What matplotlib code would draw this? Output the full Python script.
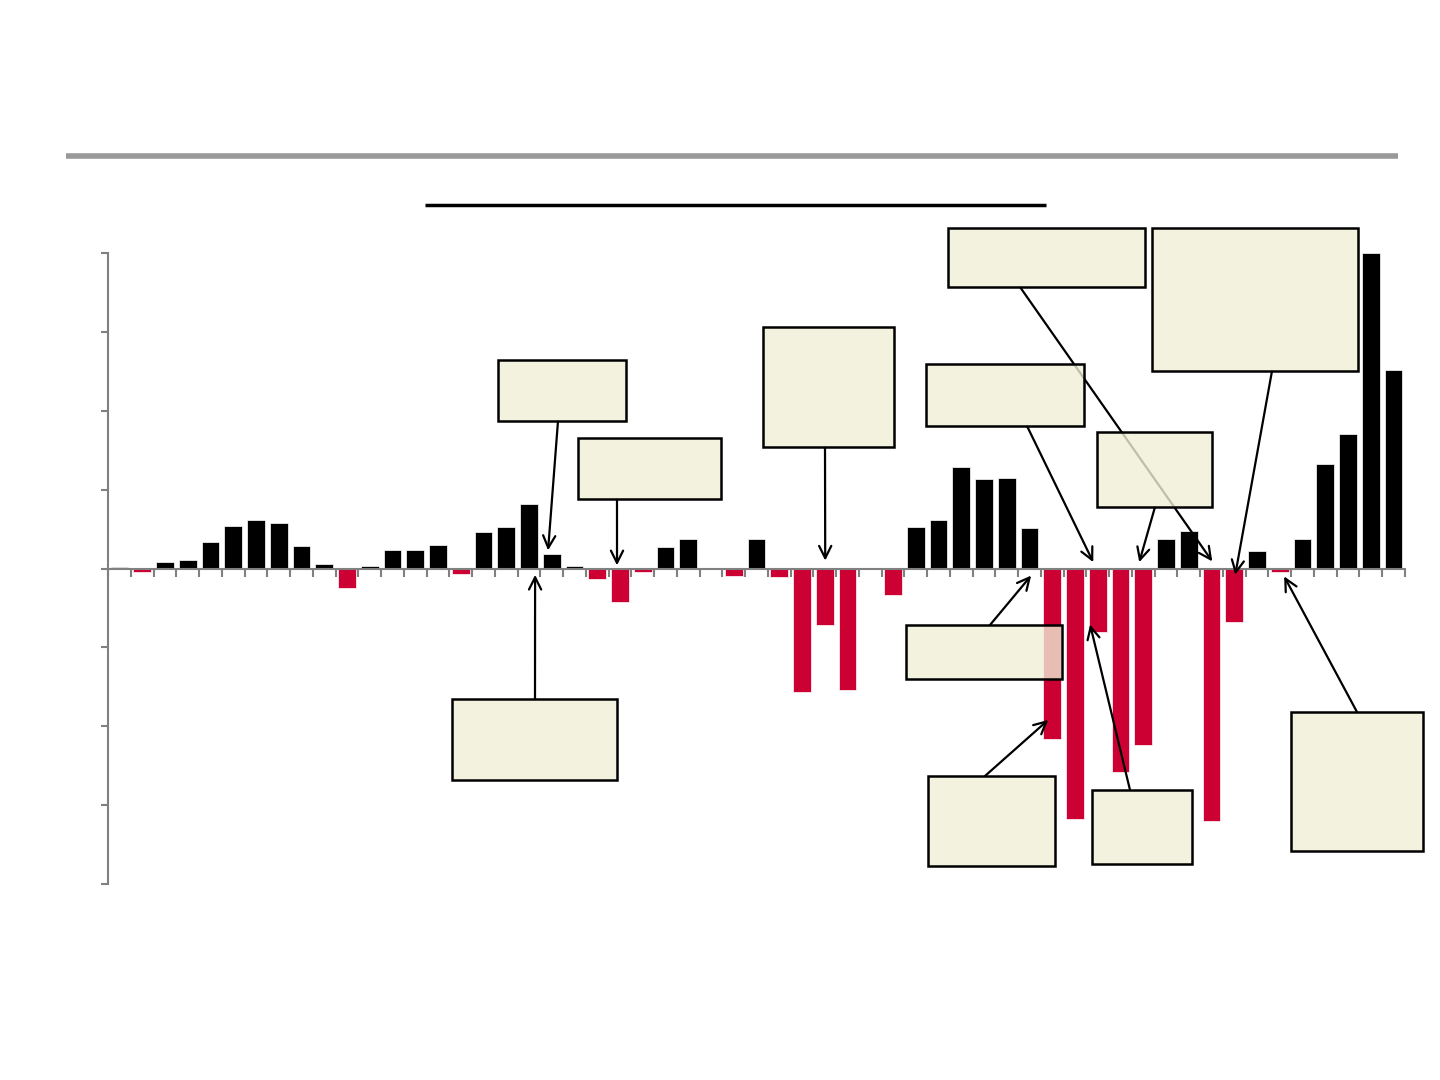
import numpy as np
import matplotlib.pyplot as plt
from matplotlib.patches import Rectangle
from matplotlib.lines import Line2D

# bar values, one per period
values = [0.02, -0.05, 0.08, 0.11, 0.33, 0.54, 0.62, 0.58, 0.28, 0.06,
          -0.25, 0.03, 0.24, 0.24, 0.30, -0.07, 0.46, 0.52, 0.82, 0.18,
          0.03, -0.13, -0.42, -0.04, 0.27, 0.38, 0.0, -0.09, 0.38, -0.11,
          -1.56, -0.72, -1.54, -0.01, -0.34, 0.52, 0.61, 1.29, 1.14, 1.15,
          0.51, -2.16, -3.18, -0.80, -2.58, -2.24, 0.37, 0.48, -3.20, -0.68,
          0.22, -0.04, 0.38, 1.33, 1.71, 4.00, 2.52]

# callout boxes in figure pixels (left, top, right, bottom), empty text
boxes = [(498, 360, 626, 421), (578, 438, 721, 499), (763, 327, 894, 447),
         (948, 228, 1145, 287), (1097, 432, 1212, 507), (926, 364, 1084, 426),
         (1152, 228, 1358, 371), (906, 625, 1062, 679), (452, 699, 617, 780),
         (928, 776, 1055, 866), (1092, 790, 1192, 864), (1291, 712, 1423, 851)]
# arrow start (figure pixels) and arrow tip (data coords) for each box
arrow_start = [(558, 421), (617, 499), (825, 447), (1020, 287), (1155, 507),
               (1027, 426), (1272, 371), (990, 625), (535, 699), (985, 776),
               (1130, 790), (1357, 712)]
arrow_tip = [(18.84, 0.23), (21.87, 0.04), (31.02, 0.10), (48.03, 0.09),
             (44.82, 0.08), (42.80, 0.08), (49.04, -0.08), (40.07, -0.09),
             (18.27, -0.08), (40.82, -1.92), (42.66, -0.71), (51.19, -0.10)]

W, H = 1440, 1080
red = '#CC0033'
fig = plt.figure(figsize=(14.4, 10.8), dpi=100)
ax = fig.add_axes([108 / W, 1 - 884 / H, (1405 - 108) / W, (884 - 253) / H])

x = np.arange(len(values))
colors = ['black' if v >= 0 else red for v in values]
ax.bar(x, values, width=0.78, color=colors, edgecolor='white', linewidth=0.5, zorder=2)

ax.set_xlim(-0.5, len(values) - 0.5)
ax.set_ylim(-4, 4)
ax.set_yticks(np.arange(-4, 5, 1))
ax.set_xticks(np.arange(len(values) + 1) - 0.5)
ax.set_xticklabels([])
ax.set_yticklabels([])
for s in ['top', 'right']:
    ax.spines[s].set_visible(False)
ax.spines['bottom'].set_position(('data', 0))
ax.spines['bottom'].set_color('#808080')
ax.spines['left'].set_color('#808080')
ax.spines['bottom'].set_linewidth(1.5)
ax.spines['left'].set_linewidth(1.5)
ax.tick_params(axis='x', direction='out', length=6, width=1.5, color='#808080')
ax.tick_params(axis='y', direction='out', length=5, width=1.5, color='#808080')


def fpx(px, py):
    return (px / W, 1 - py / H)


# header rules
fig.add_artist(Line2D([66 / W, 1398 / W], [1 - 156 / H] * 2, color='#999999',
                      lw=4, solid_capstyle='butt'))
fig.add_artist(Line2D([425 / W, 1046 / W], [1 - 205 / H] * 2, color='black',
                      lw=2.5, solid_capstyle='butt'))

# arrows first so the translucent boxes sit on top of them
for (sx, sy), (tx, ty) in zip(arrow_start, arrow_tip):
    ax.annotate('', xy=(tx, ty), xycoords='data',
                xytext=fpx(sx, sy), textcoords='figure fraction',
                arrowprops=dict(arrowstyle='->', color='black', lw=1.6,
                                mutation_scale=22, shrinkA=0, shrinkB=0),
                zorder=3, annotation_clip=False)

for (l, t, r, b) in boxes:
    x0, y0 = fpx(l, b)
    fig.add_artist(Rectangle((x0, y0), (r - l) / W, (b - t) / H,
                             transform=fig.transFigure, facecolor='#F0EFD6',
                             alpha=0.8, edgecolor='none', zorder=4))
    fig.add_artist(Rectangle((x0, y0), (r - l) / W, (b - t) / H,
                             transform=fig.transFigure, facecolor='none',
                             edgecolor='black', lw=1.8, zorder=5))

plt.savefig('out.png', dpi=100)
